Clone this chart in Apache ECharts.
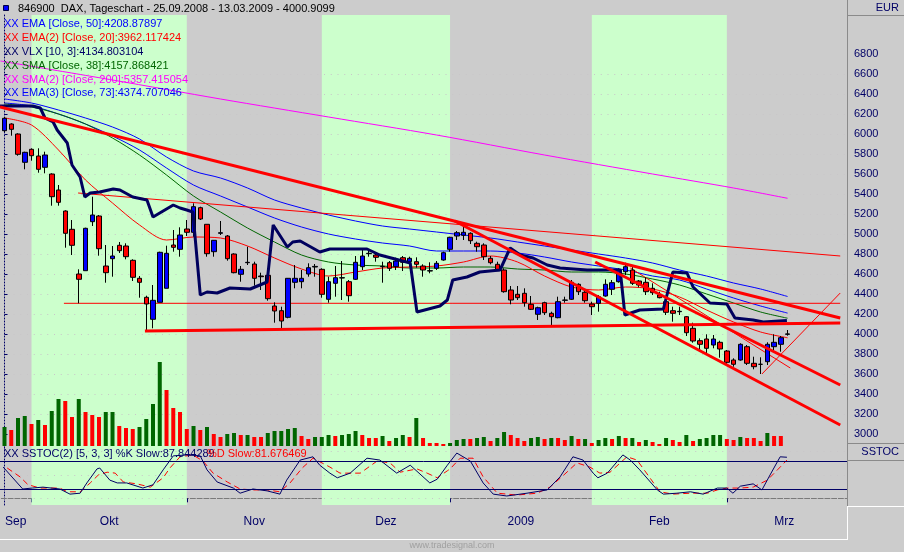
<!DOCTYPE html>
<html><head><meta charset="utf-8">
<script src="https://cdn.jsdelivr.net/npm/echarts@6/dist/echarts.min.js"></script>
<style>html,body{margin:0;padding:0;background:#cccccc;}#c{width:904px;height:552px;}</style>
</head><body><div id="c"></div><script>
// ---------- DATA ----------
const monthStarts = [4, 27, 47, 66, 87, 107];
const monthLabels = ['Sep', 'Okt', 'Nov', 'Dez', '2009', 'Feb', 'Mrz'];
const monthMids = [1.67, 15.5, 37, 56.5, 76.5, 97, 115.5];

const opens = [6033,6100,6000,5717,5847,5780,5667,5600,5440,5230,5047,4600,4633,5123,5180,4680,4753,4887,4880,4737,4557,4367,4147,4317,4457,4890,4847,5050,5017,5263,5097,4823,5007,4980,4800,4597,4713,4700,4580,4587,4280,4233,4167,4517,4523,4600,4670,4647,4347,4507,4560,4523,4547,4673,4803,4790,4673,4713,4673,4763,4723,4723,4680,4630,4657,4740,4847,4980,4987,5007,4907,4890,4757,4697,4640,4440,4397,4407,4297,4197,4313,4207,4163,4337,4347,4497,4417,4300,4307,4380,4447,4523,4623,4640,4530,4517,4457,4390,4323,4233,4223,4173,4057,3933,3950,3890,3917,3830,3740,3740,3873,3707,3697,3723,3873,3897,3997];
const closes = [6157,6047,5797,5817,5783,5647,5790,5373,5317,5007,4887,4547,5057,5190,4853,4613,4780,4833,4773,4567,4517,4300,4337,4817,4807,4867,4990,5017,5273,5150,4803,4937,5013,4753,4613,4647,4717,4557,4573,4353,4230,4130,4557,4557,4557,4663,4676,4397,4523,4563,4563,4383,4717,4780,4807,4767,4677,4657,4730,4717,4757,4697,4640,4633,4707,4813,4967,5013,5017,4933,4873,4773,4713,4633,4423,4340,4363,4313,4247,4263,4213,4173,4323,4340,4517,4423,4333,4273,4373,4497,4513,4640,4673,4507,4490,4423,4413,4363,4217,4207,4227,4013,3930,3897,3857,3950,3850,3717,3697,3897,3707,3673,3697,3897,3917,3963,4001];
const lows = [6020,5983,5783,5647,5733,5613,5607,5283,5283,4863,4790,4307,4633,5080,4783,4513,4573,4810,4747,4530,4363,4023,4057,4317,4457,4823,4773,4980,4973,5140,4773,4773,4990,4733,4607,4523,4690,4483,4440,4333,4113,4040,4157,4457,4457,4573,4573,4363,4313,4373,4340,4323,4540,4640,4773,4723,4513,4630,4640,4630,4673,4663,4573,4607,4640,4733,4823,4940,4940,4900,4823,4740,4697,4630,4413,4297,4340,4273,4240,4140,4190,4080,4157,4313,4340,4390,4313,4190,4223,4373,4390,4513,4590,4490,4467,4390,4390,4357,4190,4123,4190,3980,3913,3823,3807,3857,3763,3690,3673,3733,3690,3647,3600,3690,3840,3823,3983];
const highs = [6170,6107,6007,5823,5857,5857,5823,5607,5490,5237,5140,4647,5063,5373,5190,4890,4880,4920,4907,4747,4580,4383,4490,4823,4883,5040,5067,5140,5307,5273,5097,4940,5130,4990,4807,4680,4873,4723,4613,4607,4317,4273,4560,4690,4640,4707,4700,4657,4573,4680,4730,4540,4780,4840,4833,4807,4723,4730,4763,4780,4773,4767,4697,4717,4730,4823,4973,5030,5073,5017,4923,4907,4780,4723,4657,4480,4480,4457,4380,4273,4323,4223,4373,4373,4540,4507,4440,4323,4390,4547,4540,4657,4713,4673,4540,4567,4507,4423,4340,4273,4273,4180,4113,3957,3997,3990,3933,3840,3757,3907,3890,3773,3767,3917,3997,3980,4040];
const volumes = [19,16,28,30,22,26,21,35,47,45,29,47,34,31,29,34,34,20,18,17,19,27,42,84,56,38,34,17,20,16,19,12,9,12,13,11,11,9,9,13,15,15,17,18,10,7,9,9,11,10,11,12,15,11,8,8,10,5,8,11,9,28,8,3,3,2,3,
  6,7,7,8,9,5,8,14,11,8,5,8,9,7,8,8,6,10,7,7,3,6,8,7,10,8,8,4,6,4,2,8,6,4,11,5,7,8,11,11,7,6,9,8,8,5,13,10,10];
const volumeDir = 'GRGGRGRGGR' + 'RGRRRGGRRR' + 'GGGGRRRRGR' + 'GRRGGRGRRG' + 'GGGGRRGGGR' + 'GGGRRRGRGG' + 'RGRRRRG' +
  'GGRGGRGGRR' + 'RGGRGRRGRG' + 'RGGRGRGRGR' + 'RGRRGRGGGG' + 'RRGRRRGRR';

const maIdx = [0,4,8,12,16,20,24,28,32,36,40,44,48,52,56,60,64,68,72,76,80,84,88,92,96,100,104,108,112,116];
const ema50 = [6310,6280,6200,6100,5980,5840,5660,5490,5380,5270,5160,5070,5000,4950,4910,4880,4830,4830,4830,4810,4770,4720,4680,4640,4580,4540,4450,4360,4280,4209];
const ema20 = [6160,6090,5840,5540,5310,5090,4940,4970,4960,4880,4760,4650,4580,4620,4660,4670,4680,4720,4780,4720,4580,4470,4440,4470,4450,4370,4240,4120,4020,3962];
const sma38 = [6300,6270,6200,6100,5960,5790,5590,5380,5220,5060,4920,4790,4720,4690,4680,4660,4660,4670,4670,4650,4640,4620,4620,4600,4550,4490,4400,4310,4220,4158];
const ema73 = [6350,6310,6240,6160,6070,5950,5770,5630,5560,5460,5340,5260,5190,5130,5080,5050,5020,4990,4960,4920,4880,4840,4800,4760,4710,4640,4580,4510,4450,4375];
const sma200Idx = [-0.6,16,32,48,64,80,96,108,116];
const sma200 = [6730,6540,6350,6170,5990,5790,5600,5460,5357];
const vlxIdx = [-0.67,4.2,5.3,6.0,7.2,7.8,9.3,10.0,11.2,11.9,12.7,14.1,16.1,17.1,19.0,21.1,22.0,23.0,25.0,26.0,27.0,27.9,29.0,30.0,31.5,33.4,36.4,38.9,39.8,41.9,42.7,43.8,46.7,48.2,53.7,55.6,60.1,61.1,64.5,65.6,66.4,68.5,70.4,73.4,74.9,76.4,78.3,80.4,82.3,86.3,91.2,91.9,94.1,97.6,99.0,101.1,102.0,104.5,107.0,108.2,110.9,112.4,115.9];
const vlx = [6280,6280,6260,6160,6120,6040,5910,5690,5570,5370,5410,5420,5450,5440,5370,5340,5170,5210,5290,5260,5240,5220,4390,4420,4410,4460,4450,4520,5090,4870,4920,4930,4820,4850,4850,4790,4710,4220,4280,4340,4540,4570,4620,4640,4860,4790,4760,4690,4660,4640,4640,4190,4240,4250,4620,4610,4470,4310,4300,4160,4140,4120,4135];

const trendA = [[-0.667, 6270], [123.8, 4160]];
const trendB = [[66.7, 5130], [123.8, 3090]];
const trendC = [[87.5, 4720], [123.8, 3490]];
const trendD = [[92.7, 4660], [116.4, 3660]];
const levelE = [[8.8, 4307], [123.8, 4307]];
const supportF = [[20.8, 4030], [123.8, 4110]];
const trendG = [[10.9, 5410], [123.8, 4780]];
const trendH = [[112.2, 3600], [123.8, 4410]];

const kIdx = [-0.2,2.7,4.1,5.7,8.2,9.7,11.2,12.2,13.7,14.1,15.6,16.7,18.1,20.5,22.0,23.5,25.0,27.0,29.0,30.0,31.5,33.9,34.9,36.8,38.9,40.8,41.8,43.8,45.7,46.7,48.2,49.3,51.2,53.7,55.6,58.1,60.1,63.0,64.1,65.6,67.0,69.0,70.9,72.4,74.4,77.4,80.4,82.3,84.2,85.7,87.2,87.9,89.3,91.6,92.7,94.1,96.7,97.6,99.6,101.6,103.5,105.6,107.0,107.9,109.0,110.9,112.2,113.4,114.9,115.9];
const kVal = [67,20,22,24,20,9,11,33,63,65,39,33,33,22,29,61,91,93,91,61,35,22,11,20,16,9,39,82,89,71,54,44,54,86,82,54,71,33,41,71,97,80,33,9,5,11,18,46,89,82,54,44,54,93,82,61,18,9,11,14,9,22,22,11,26,31,18,50,89,88];
const dIdx = [0.4,2.3,3.5,5.3,8.2,9.3,11.2,12.7,13.9,15.2,16.4,17.6,19.6,21.6,23.5,24.5,26.0,27.9,29.4,30.9,33.0,34.9,36.8,38.9,40.8,42.3,44.1,45.7,48.2,49.7,52.7,55.2,57.1,58.6,61.1,62.6,64.1,65.6,66.0,67.5,69.4,70.9,73.0,75.9,78.9,80.8,82.7,84.8,86.7,88.2,89.7,92.2,93.7,95.6,97.1,99.0,101.6,104.1,105.6,107.0,109.0,110.9,113.0,114.5,115.9];
const dVal = [65,46,29,22,22,14,14,33,50,56,54,35,31,24,44,65,89,93,80,54,35,20,18,18,14,33,65,86,67,54,54,80,76,56,63,54,44,59,63,86,86,46,11,7,11,24,48,76,67,54,56,89,82,44,14,9,11,11,18,22,22,24,39,61,82];
const stochLevels = [80, 20];
const stochGuides = [100, 50, 0];
const priceTicks = [3000,3200,3400,3600,3800,4000,4200,4400,4600,4800,5000,5200,5400,5600,5800,6000,6200,6400,6600,6800];

// ---------- CHART ----------
const XMIN = -0.667, XMAX = 124.8;
const FONT = '"Liberation Sans", Arial, sans-serif';
const NAVY = '#000066';
const DOTS = '#c9c6c9';
const pairs = (a, b) => a.map((x, k) => [x, b[k]]);
const chart = echarts.init(document.getElementById('c'), null, {renderer: 'canvas'});

const greenBands = [[monthStarts[0], monthStarts[1]], [monthStarts[2], monthStarts[3]], [monthStarts[4], monthStarts[5]]];

function lineSeries(name, data, color, width, z, extra) {
  return Object.assign({
    name, type: 'line', xAxisIndex: 0, yAxisIndex: 0, data, showSymbol: false, symbol: 'none',
    lineStyle: {color, width}, z, silent: true, animation: false
  }, extra || {});
}

const option = {
  backgroundColor: '#cccccc',
  animation: false,
  grid: [
    {left: 0, top: 14, width: 847, height: 440},
    {left: 0, top: 447, width: 847, height: 58}
  ],
  xAxis: [
    {gridIndex: 0, type: 'value', min: XMIN, max: XMAX, show: false},
    {gridIndex: 1, type: 'value', min: XMIN, max: XMAX, position: 'bottom', offset: 2,
      axisLine: {show: true, lineStyle: {color: '#7a7a7a', width: 1}},
      axisTick: {show: true, length: 4, customValues: monthStarts, lineStyle: {color: NAVY}},
      axisLabel: {show: true, customValues: monthMids, color: NAVY, fontSize: 12, fontFamily: FONT, margin: 9,
        formatter: function (v) {
          let best = 0, bd = 1e9;
          monthMids.forEach((m, k) => { const d = Math.abs(m - v); if (d < bd) { bd = d; best = k; } });
          return monthLabels[best];
        }},
      splitLine: {show: false}}
  ],
  yAxis: [
    {gridIndex: 0, type: 'value', position: 'right', min: 2800, max: 7200, interval: 200, offset: 2, z: 2,
      axisLine: {show: true, lineStyle: {color: NAVY, type: [1, 2]}},
      axisTick: {show: true, length: 3, customValues: priceTicks, lineStyle: {color: NAVY}},
      axisLabel: {show: true, customValues: priceTicks, color: NAVY, fontSize: 11, fontFamily: FONT, margin: 5,
        formatter: v => String(v)},
      splitLine: {show: true, showMinLine: false, showMaxLine: false, lineStyle: {color: DOTS, type: [1, 5.75], width: 1}}},
    {gridIndex: 0, type: 'value', min: -8, max: 432, show: false},
    {gridIndex: 1, type: 'value', position: 'right', min: -14.3, max: 110, offset: 2,
      axisLine: {show: true, lineStyle: {color: NAVY, type: [1, 2]}},
      axisTick: {show: false}, axisLabel: {show: false}, splitLine: {show: false}}
  ],
  series: [
    {type: 'line', xAxisIndex: 0, yAxisIndex: 0, data: [[-5, 5000]], symbol: 'none', lineStyle: {width: 0}, z: 1, silent: true,
      markArea: {silent: true, itemStyle: {color: '#ccffcc'},
        data: greenBands.map(b => [{xAxis: b[0], yAxis: 2870}, {xAxis: b[1], yAxis: 7190}])}},
    {type: 'line', xAxisIndex: 1, yAxisIndex: 2, data: [[-5, 50]], symbol: 'none', lineStyle: {width: 0}, z: 1, silent: true,
      markArea: {silent: true, itemStyle: {color: '#ccffcc'},
        data: greenBands.map(b => [{xAxis: b[0]}, {xAxis: b[1]}])},
      markLine: {silent: true, symbol: 'none', label: {show: false},
        lineStyle: {color: DOTS, type: [1, 5.75], width: 1},
        data: stochGuides.map(v => ({yAxis: v}))}},
    {name: 'Volume', type: 'bar', xAxisIndex: 0, yAxisIndex: 1, barWidth: 4, z: 3, silent: true,
      data: volumes.map((v, i) => ({value: [i, v], itemStyle: {color: volumeDir[i] === 'G' ? '#006600' : '#ff0000'}}))},
    lineSeries('SMA200', pairs(sma200Idx, sma200), '#ff00ff', 1, 4, {smooth: 0.3}),
    lineSeries('EMA73', pairs(maIdx, ema73), '#0000ff', 1, 4, {smooth: 0.3}),
    lineSeries('EMA50', pairs(maIdx, ema50), '#0000ff', 1, 4, {smooth: 0.3}),
    lineSeries('SMA38', pairs(maIdx, sma38), '#006600', 1, 4, {smooth: 0.3}),
    lineSeries('EMA20', pairs(maIdx, ema20), '#ff0000', 1, 4, {smooth: 0.3}),
    lineSeries('G', trendG, '#ff0000', 1, 4),
    lineSeries('E', levelE, '#ff0000', 1, 4),
    lineSeries('D', trendD, '#ff0000', 1, 4),
    lineSeries('H', trendH, '#ff0000', 1, 4),
    {name: 'DAX', type: 'candlestick', xAxisIndex: 0, yAxisIndex: 0, barWidth: 5, z: 5, silent: true,
      encode: {x: 0, y: [1, 2, 3, 4]},
      itemStyle: {color: '#0000ff', color0: '#ff0000', borderColor: '#000000', borderColor0: '#000000', borderColorDoji: '#000000', borderWidth: 1},
      data: opens.map((o, i) => [i, o, closes[i], lows[i], highs[i]])},
    lineSeries('VLX', pairs(vlxIdx, vlx), '#00005e', 3, 6),
    lineSeries('A', trendA, '#ff0000', 3, 6),
    lineSeries('B', trendB, '#ff0000', 3, 6),
    lineSeries('C', trendC, '#ff0000', 3, 6),
    lineSeries('F', supportF, '#ff0000', 3, 6),
    {name: '%K', type: 'line', xAxisIndex: 1, yAxisIndex: 2, data: pairs(kIdx, kVal), symbol: 'none', z: 5, silent: true,
      lineStyle: {color: '#000066', width: 1},
      markLine: {silent: true, symbol: 'none', label: {show: false}, lineStyle: {color: '#000066', type: 'solid', width: 1},
        data: stochLevels.map(v => ({yAxis: v}))}},
    {name: '%D', type: 'line', xAxisIndex: 1, yAxisIndex: 2, data: pairs(dIdx, dVal), symbol: 'none', z: 4, silent: true,
      lineStyle: {color: '#ff0000', width: 1, type: [6, 4]}}
  ],
  graphic: [
    {type: 'line', silent: true, z: 10, shape: {x1: 847.5, y1: 0, x2: 847.5, y2: 506}, style: {stroke: '#8a8a8a', lineWidth: 1}},
    {type: 'line', silent: true, z: 10, shape: {x1: 847, y1: 15.5, x2: 904, y2: 15.5}, style: {stroke: '#8a8a8a', lineWidth: 1}},
    {type: 'line', silent: true, z: 10, shape: {x1: 847, y1: 443.5, x2: 904, y2: 443.5}, style: {stroke: '#8a8a8a', lineWidth: 1}},
    {type: 'line', silent: true, z: 10, shape: {x1: 847, y1: 460.5, x2: 904, y2: 460.5}, style: {stroke: '#8a8a8a', lineWidth: 1}},
    {type: 'line', silent: true, z: 10, shape: {x1: 847, y1: 506.5, x2: 904, y2: 506.5}, style: {stroke: '#ffffff', lineWidth: 1}},
    {type: 'line', silent: true, z: 10, shape: {x1: 847.5, y1: 507, x2: 847.5, y2: 539.5}, style: {stroke: '#ffffff', lineWidth: 1}},
    {type: 'line', silent: true, z: 10, shape: {x1: 0, y1: 539.5, x2: 848, y2: 539.5}, style: {stroke: '#ffffff', lineWidth: 1}},
    {type: 'rect', silent: true, z: 10, shape: {x: 3.5, y: 5.5, width: 5, height: 5}, style: {fill: '#0000ff', stroke: '#000044', lineWidth: 1}},
    {type: 'text', silent: true, z: 10, style: {x: 18, y: 9, text: '846900  DAX, Tageschart - 25.09.2008 - 13.03.2009 - 4000.9099', fill: '#000000', font: '11px ' + FONT, verticalAlign: 'middle'}},
    {type: 'text', silent: true, z: 10, style: {x: 4, y: 24, text: 'XX EMA [Close, 50]:4208.87897', fill: '#0000ff', font: '11px ' + FONT, verticalAlign: 'middle'}},
    {type: 'text', silent: true, z: 10, style: {x: 4, y: 38, text: 'XX EMA(2) [Close, 20]:3962.117424', fill: '#ff0000', font: '11px ' + FONT, verticalAlign: 'middle'}},
    {type: 'text', silent: true, z: 10, style: {x: 4, y: 52, text: 'XX VLX [10, 3]:4134.803104', fill: '#000066', font: '11px ' + FONT, verticalAlign: 'middle'}},
    {type: 'text', silent: true, z: 10, style: {x: 4, y: 66, text: 'XX SMA [Close, 38]:4157.868421', fill: '#006600', font: '11px ' + FONT, verticalAlign: 'middle'}},
    {type: 'text', silent: true, z: 10, style: {x: 4, y: 80, text: 'XX SMA(2) [Close, 200]:5357.415054', fill: '#ff00ff', font: '11px ' + FONT, verticalAlign: 'middle'}},
    {type: 'text', silent: true, z: 10, style: {x: 4, y: 93, text: 'XX EMA(3) [Close, 73]:4374.707046', fill: '#0000ff', font: '11px ' + FONT, verticalAlign: 'middle'}},
    {type: 'text', silent: true, z: 10, style: {x: 4, y: 454, text: 'XX SSTOC(2) [5, 3, 3] %K Slow:87.844289', fill: '#000066', font: '11px ' + FONT, verticalAlign: 'middle'}},
    {type: 'text', silent: true, z: 10, style: {x: 207, y: 454, text: '%D Slow:81.676469', fill: '#ff0000', font: '11px ' + FONT, verticalAlign: 'middle'}},
    {type: 'text', silent: true, z: 10, style: {x: 899, y: 8, text: 'EUR', fill: '#000066', font: '11px ' + FONT, align: 'right', verticalAlign: 'middle'}},
    {type: 'text', silent: true, z: 10, style: {x: 899, y: 452, text: 'SSTOC', fill: '#000066', font: '11px ' + FONT, align: 'right', verticalAlign: 'middle'}},
    {type: 'text', silent: true, z: 10, style: {x: 452, y: 546, text: 'www.tradesignal.com', fill: '#a0a0a0', font: '9px ' + FONT, align: 'center', verticalAlign: 'middle'}}
  ]
};
chart.setOption(option);
</script></body></html>
